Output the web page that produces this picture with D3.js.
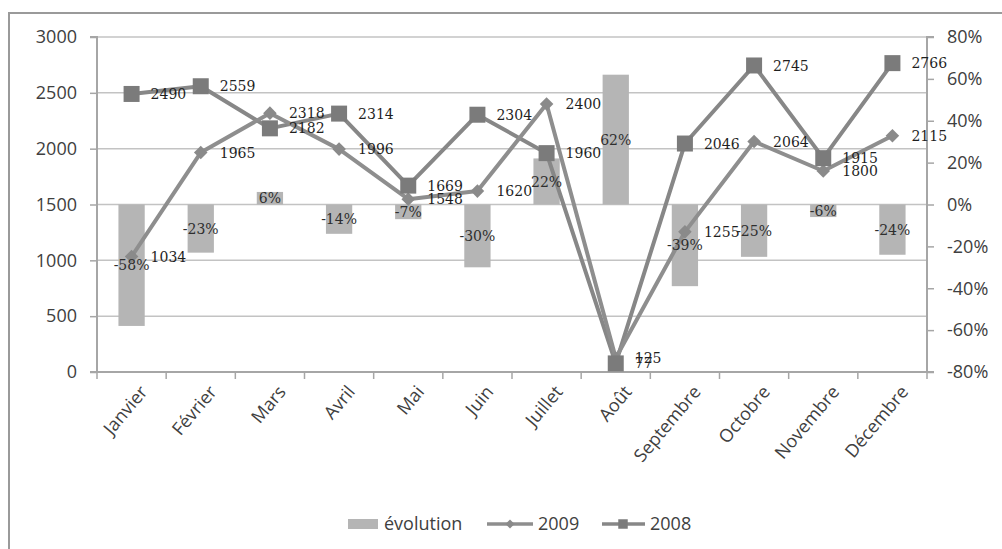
<!DOCTYPE html>
<html>
<head>
<meta charset="utf-8">
<script src="https://cdn.jsdelivr.net/npm/d3@7"></script>
<style>
  html, body { margin: 0; padding: 0; background: #fff; }
  svg { display: block; }
</style>
</head>
<body>
<svg id="chart" width="1002" height="549"></svg>
<script>
// Monthly figures: 2008 vs 2009 and the year-on-year change
const months = ["Janvier", "Février", "Mars", "Avril", "Mai", "Juin", "Juillet", "Août", "Septembre", "Octobre", "Novembre", "Décembre"];
const values2009 = [1034, 1965, 2318, 1996, 1548, 1620, 2400, 125, 1255, 2064, 1800, 2115];
const values2008 = [2490, 2559, 2182, 2314, 1669, 2304, 1960, 77, 2046, 2745, 1915, 2766];
const evolution = [-58, -23, 6, -14, -7, -30, 22, 62, -39, -25, -6, -24];
const leftTicks = [0, 500, 1000, 1500, 2000, 2500, 3000];
const rightTicks = [-80, -60, -40, -20, 0, 20, 40, 60, 80];
const legendLabels = ["évolution", "2009", "2008"];

const svg = d3.select("#chart");
const plot = { left: 97, right: 927, top: 37, bottom: 372 };

const sansFont = "'Open Sans', 'DejaVu Sans', sans-serif";
const serifFont = "'DejaVu Serif', 'Liberation Serif', serif";

const x = d3.scaleBand().domain(months).range([plot.left, plot.right]).padding(0);
const yLeft = d3.scaleLinear().domain([0, 3000]).range([plot.bottom, plot.top]);
const yRight = d3.scaleLinear().domain([-80, 80]).range([plot.bottom, plot.top]);
const cx = m => x(m) + x.bandwidth() / 2;

// outer frame
svg.append("path")
  .attr("d", "M9,549 V13 H1002")
  .attr("fill", "none").attr("stroke", "#9a9a9a").attr("stroke-width", 2);

// horizontal gridlines
svg.append("g").selectAll("line").data(leftTicks.filter(d => d > 0)).join("line")
  .attr("x1", plot.left).attr("x2", plot.right)
  .attr("y1", d => yLeft(d)).attr("y2", d => yLeft(d))
  .attr("stroke", "#c3c3c3").attr("stroke-width", 1.5);

// left axis
const axL = svg.append("g").attr("transform", `translate(${plot.left},0)`)
  .call(d3.axisLeft(yLeft).tickValues(leftTicks).tickSize(7).tickPadding(13).tickFormat(d3.format("d")));
axL.select(".domain").attr("stroke", "#a6a6a6").attr("stroke-width", 2).attr("d", `M-7,${plot.top}H0V${plot.bottom}H-7`);
axL.selectAll(".tick line").attr("stroke", "#a6a6a6").attr("stroke-width", 1.5);
axL.selectAll(".tick text").attr("fill", "#404040").style("font", `18px ${sansFont}`);

// right axis
const axR = svg.append("g").attr("transform", `translate(${plot.right},0)`)
  .call(d3.axisRight(yRight).tickValues(rightTicks).tickSize(7).tickPadding(13).tickFormat(d => d + "%"));
axR.select(".domain").attr("stroke", "#a6a6a6").attr("stroke-width", 2).attr("d", `M7,${plot.top}H0V${plot.bottom}H7`);
axR.selectAll(".tick line").attr("stroke", "#a6a6a6").attr("stroke-width", 1.5);
axR.selectAll(".tick text").attr("fill", "#404040").style("font", `18px ${sansFont}`);

// bottom axis with ticks between categories
const boundaries = months.map(m => x(m)).concat([plot.right]);
const axB = svg.append("g");
axB.append("line").attr("x1", plot.left).attr("x2", plot.right)
  .attr("y1", plot.bottom).attr("y2", plot.bottom)
  .attr("stroke", "#a6a6a6").attr("stroke-width", 2);
axB.selectAll("line.tk").data(boundaries).join("line").attr("class", "tk")
  .attr("x1", d => d).attr("x2", d => d)
  .attr("y1", plot.bottom).attr("y2", plot.bottom + 7)
  .attr("stroke", "#a6a6a6").attr("stroke-width", 1.5);
axB.selectAll("text").data(months).join("text")
  .attr("transform", m => `translate(${cx(m) + 7},${plot.bottom + 12}) rotate(-50)`)
  .attr("text-anchor", "end").attr("dy", "0.72em")
  .attr("fill", "#404040").style("font", `18px ${sansFont}`)
  .text(m => m);

// evolution bars (right axis)
const barW = x.bandwidth() * 0.38;
const bars = svg.append("g");
bars.selectAll("rect").data(evolution).join("rect")
  .attr("x", (d, i) => cx(months[i]) - barW / 2)
  .attr("width", barW)
  .attr("y", d => Math.min(yRight(d), yRight(0)))
  .attr("height", d => Math.abs(yRight(d) - yRight(0)))
  .attr("fill", "#b5b5b5");

// lines and markers
const lineGen = d3.line().x((d, i) => cx(months[i])).y(d => yLeft(d));
svg.append("path").datum(values2008).attr("d", lineGen)
  .attr("fill", "none").attr("stroke", "#878787").attr("stroke-width", 4).attr("stroke-linejoin", "round");
svg.append("path").datum(values2009).attr("d", lineGen)
  .attr("fill", "none").attr("stroke", "#8e8e8e").attr("stroke-width", 4).attr("stroke-linejoin", "round");

const square = d3.symbol().type(d3.symbolSquare).size(256);
const diamond = d3.symbol().type(d3.symbolSquare).size(92);

svg.append("g").selectAll("path").data(values2009).join("path")
  .attr("d", diamond)
  .attr("transform", (d, i) => `translate(${cx(months[i])},${yLeft(d)}) rotate(45)`)
  .attr("fill", "#8a8a8a");
svg.append("g").selectAll("path").data(values2008).join("path")
  .attr("d", square)
  .attr("transform", (d, i) => `translate(${cx(months[i])},${yLeft(d)})`)
  .attr("fill", "#7b7b7b");

// bar value labels
svg.append("g").selectAll("text").data(evolution).join("text")
  .attr("x", (d, i) => cx(months[i]))
  .attr("y", d => (yRight(d) + yRight(0)) / 2)
  .attr("dy", "0.36em").attr("text-anchor", "middle")
  .attr("fill", "#2e2e2e").style("font", `14px ${serifFont}`)
  .text(d => d + "%");

// line value labels
function pointLabels(values) {
  svg.append("g").selectAll("text").data(values).join("text")
    .attr("x", (d, i) => cx(months[i]) + 19)
    .attr("y", d => yLeft(d))
    .attr("dy", "0.36em")
    .attr("fill", "#1f1f1f").style("font", `14px ${serifFont}`)
    .text(d => d);
}
pointLabels(values2009);
pointLabels(values2008);

// legend
const lg = svg.append("g").style("font", `18px ${sansFont}`).attr("fill", "#404040");
const ly = 524;
lg.append("rect").attr("x", 348).attr("y", ly - 5).attr("width", 30).attr("height", 10).attr("fill", "#b5b5b5");
lg.append("text").attr("x", 384).attr("y", ly).attr("dy", "0.35em").text(legendLabels[0]);
lg.append("line").attr("x1", 487).attr("x2", 533).attr("y1", ly).attr("y2", ly)
  .attr("stroke", "#8e8e8e").attr("stroke-width", 3.5);
lg.append("path").attr("d", d3.symbol().type(d3.symbolSquare).size(40))
  .attr("transform", `translate(510,${ly}) rotate(45)`).attr("fill", "#8a8a8a");
lg.append("text").attr("x", 538).attr("y", ly).attr("dy", "0.35em").text(legendLabels[1]);
lg.append("line").attr("x1", 602).attr("x2", 645).attr("y1", ly).attr("y2", ly)
  .attr("stroke", "#878787").attr("stroke-width", 3.5);
lg.append("path").attr("d", d3.symbol().type(d3.symbolSquare).size(90))
  .attr("transform", `translate(623,${ly})`).attr("fill", "#7b7b7b");
lg.append("text").attr("x", 650).attr("y", ly).attr("dy", "0.35em").text(legendLabels[2]);
</script>
</body>
</html>
